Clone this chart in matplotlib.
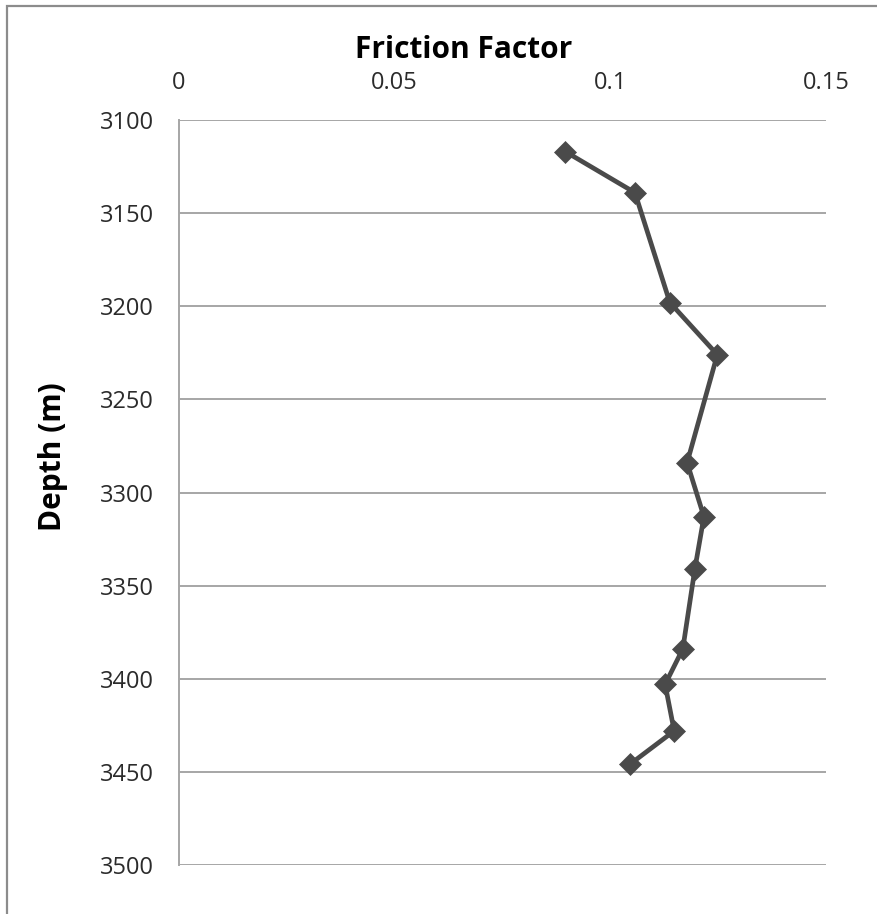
import matplotlib
matplotlib.use("Agg")
import matplotlib.pyplot as plt
from matplotlib.patches import Rectangle

# Friction factor measured along the well, by depth
depth_m = [3117, 3139, 3198, 3226, 3284, 3313, 3341, 3384, 3403, 3428, 3446]
friction_factor = [0.0896, 0.1057, 0.1138, 0.1248, 0.1178, 0.1217, 0.1196,
                   0.1168, 0.1127, 0.1148, 0.1045]

x_ticks = [0, 0.05, 0.1, 0.15]
x_tick_labels = ["0", "0.05", "0.1", "0.15"]
y_ticks = [3100, 3150, 3200, 3250, 3300, 3350, 3400, 3450, 3500]

plt.rcParams["font.family"] = ["Open Sans", "DejaVu Sans"]

W, H = 878, 914
fig = plt.figure(figsize=(W / 100, H / 100), dpi=100)
fig.patch.set_facecolor("white")

# outer chart frame (only left and top edges fall inside the image)
fig.add_artist(Rectangle((7 / W, -0.1), 1.2, 1 - 6 / H + 0.1,
                         transform=fig.transFigure, fill=False,
                         edgecolor="#8c8c8c", linewidth=1.6))

ax = fig.add_axes([179 / W, 1 - 865 / H, (826 - 179) / W, (865 - 120) / H])
ax.plot(friction_factor, depth_m, color="#4a4a4a", linewidth=3.4,
        marker="D", markersize=11.5, markerfacecolor="#4a4a4a",
        markeredgecolor="#4a4a4a", markeredgewidth=0.5, zorder=3)

ax.set_xlim(0, 0.15)
ax.set_ylim(3500, 3100)
ax.set_xticks(x_ticks)
ax.set_xticklabels(x_tick_labels)
ax.set_yticks(y_ticks)
ax.xaxis.tick_top()
ax.tick_params(axis="x", length=0, pad=18, labelsize=17, labelcolor="#2b2b2b")
ax.tick_params(axis="y", length=0, pad=18, labelsize=17, labelcolor="#2b2b2b")

ax.grid(axis="y", color="#a6a6a6", linewidth=1.4)
ax.grid(axis="x", visible=False)
ax.set_axisbelow(True)
for side in ("top", "right", "bottom"):
    ax.spines[side].set_visible(False)
ax.spines["left"].set_color("#a6a6a6")
ax.spines["left"].set_linewidth(1.4)

fig.text(464 / W, 1 - 58 / H, "Friction Factor", ha="center", va="baseline",
         fontsize=21.5, fontweight="bold", color="#000000")
fig.text(53 / W, 1 - 457 / H, "Depth (m)", ha="center", va="center",
         rotation=90, fontsize=21.5, fontweight="bold", color="#000000")

fig.savefig("out.png", dpi=100, facecolor="white")
